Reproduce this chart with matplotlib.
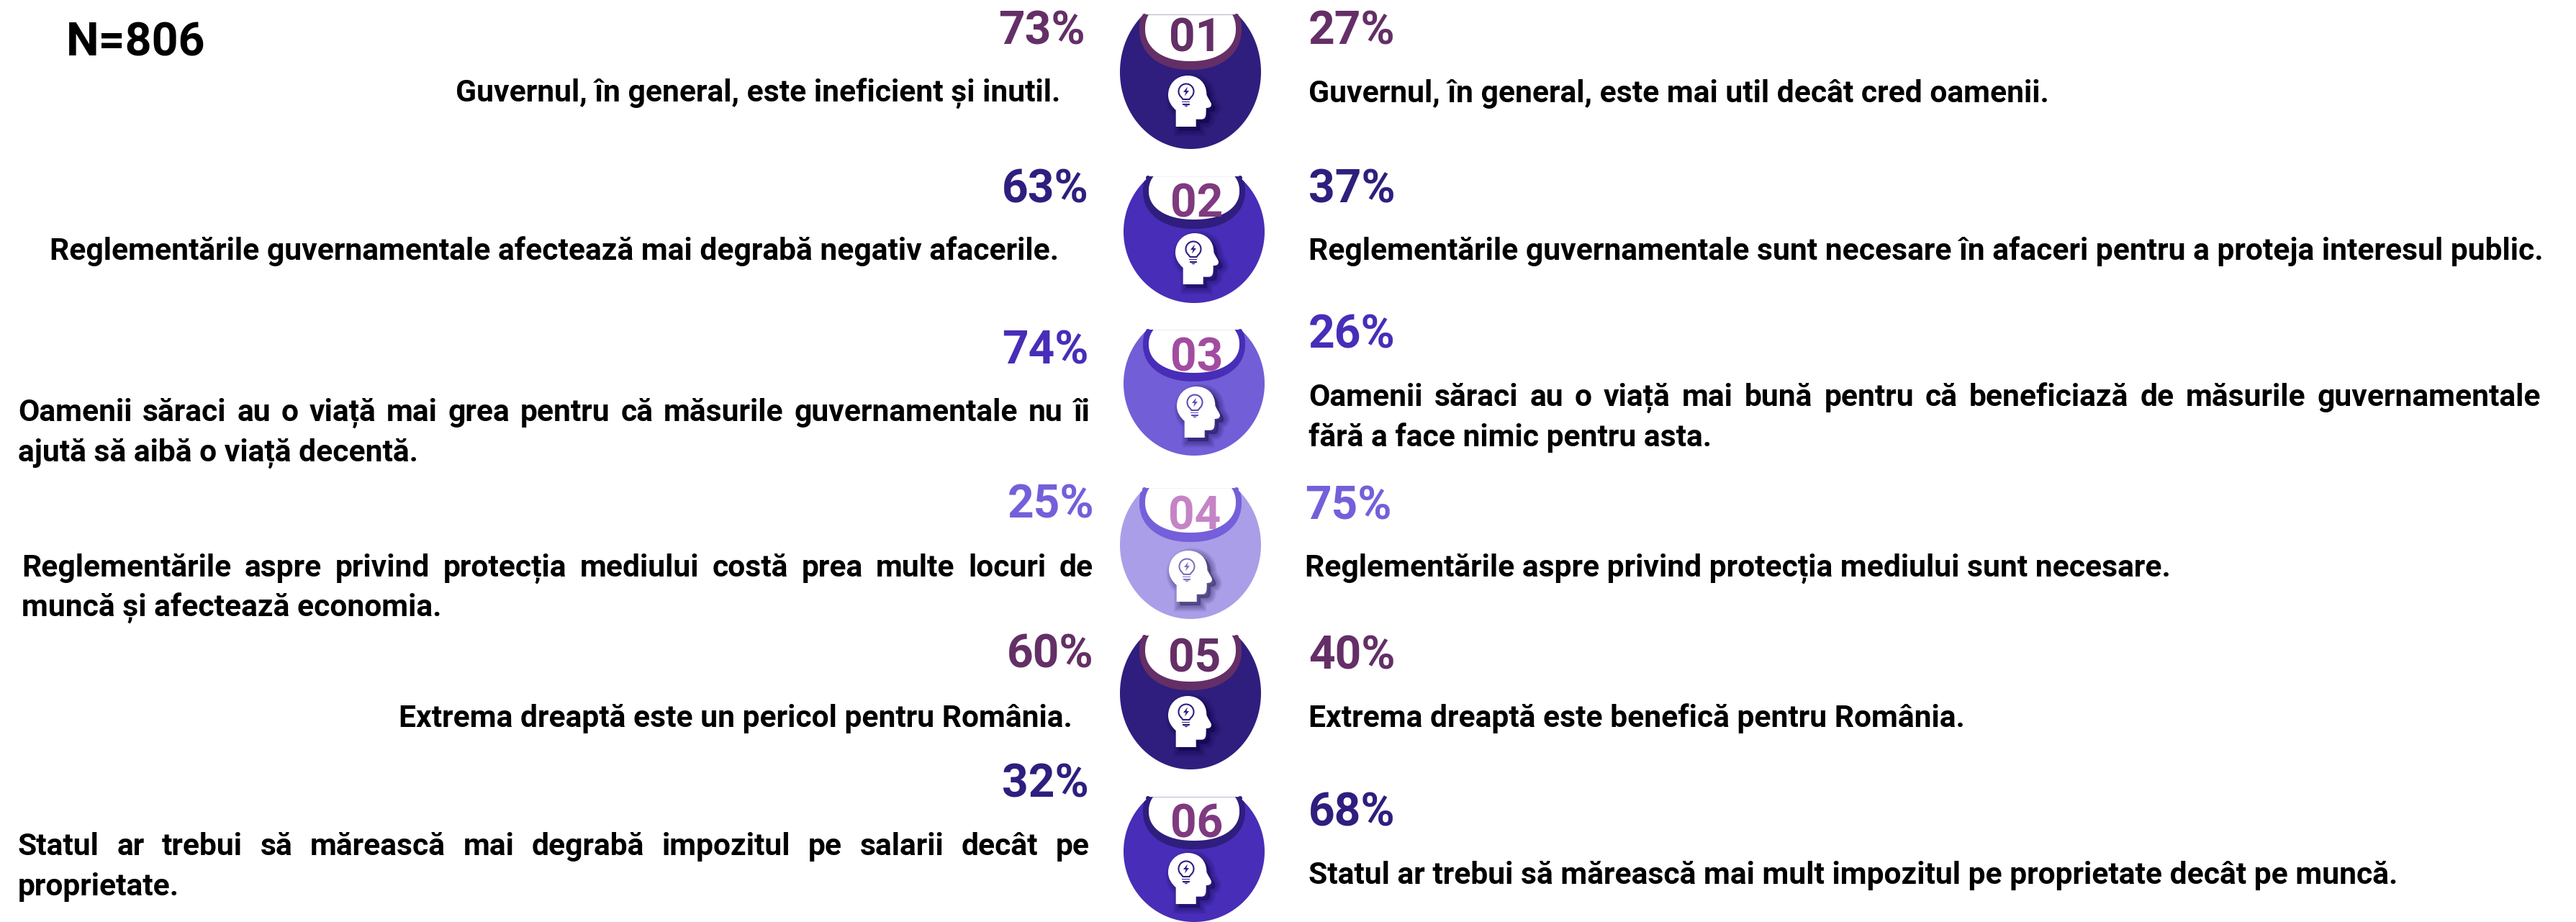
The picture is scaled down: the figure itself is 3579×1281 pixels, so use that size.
import numpy as np
import matplotlib
matplotlib.use("Agg")
import matplotlib.pyplot as plt
from matplotlib.path import Path
from matplotlib.patches import PathPatch, Circle, Polygon, Rectangle
from matplotlib.transforms import Affine2D

plt.rcParams['font.family'] = ['Roboto', 'DejaVu Sans']

# data
numbers = ["01", "02", "03", "04", "05", "06"]
left_pct = [73, 63, 74, 25, 60, 32]
right_pct = [27, 37, 26, 75, 40, 68]
left_text = [
    ["Guvernul, în general, este ineficient și inutil."],
    ["Reglementările guvernamentale afectează mai degrabă negativ afacerile."],
    ["Oamenii săraci au o viață mai grea pentru că măsurile guvernamentale nu îi",
     "ajută să aibă o viață decentă."],
    ["Reglementările aspre privind protecția mediului costă prea multe locuri de",
     "muncă și afectează economia."],
    ["Extrema dreaptă este un pericol pentru România."],
    ["Statul ar trebui să mărească mai degrabă impozitul pe salarii decât pe",
     "proprietate."],
]
right_text = [
    ["Guvernul, în general, este mai util decât cred oamenii."],
    ["Reglementările guvernamentale sunt necesare în afaceri pentru a proteja interesul public."],
    ["Oamenii săraci au o viață mai bună pentru că beneficiază de măsurile guvernamentale",
     "fără a face nimic pentru asta."],
    ["Reglementările aspre privind protecția mediului sunt necesare."],
    ["Extrema dreaptă este benefică pentru România."],
    ["Statul ar trebui să mărească mai mult impozitul pe proprietate decât pe muncă."],
]

# colours per row
body_col = ["#2f1e7e", "#482db8", "#725ed7", "#aa9ee8", "#2f1e7e", "#482db8"]
band_col = ["#642f66", "#2f1e7e", "#482db8", "#755fda", "#642f66", "#2f1e7e"]
num_col = ["#642f66", "#7f3a80", "#a24ca0", "#c584c5", "#642f66", "#7f3a80"]
left_col = ["#642f66", "#2f1e7e", "#482db8", "#755fda", "#642f66", "#2f1e7e"]
right_col = ["#642f66", "#2f1e7e", "#482db8", "#755fda", "#642f66", "#2f1e7e"]
bulb_col = ["#2f1e7e", "#2f1e7e", "#5f4eb5", "#7d72b8", "#2f1e7e", "#2f1e7e"]

# layout, in pixels of the picture
cx = [1654, 1659, 1659, 1654, 1654, 1659]
tip_y = [20, 245, 458, 678, 883, 1107]
mid_y = [100, 322, 533, 757, 963, 1183]
bot_y = [207, 421, 633, 860, 1069, 1281]
white_bot = [85, 305, 518, 740, 947, 1168]
band_bot = [97, 318, 530, 753, 959, 1180]
head_x = [1623, 1633, 1635, 1624, 1623, 1623]
head_y = [105, 324, 537, 765, 967, 1185]
num_x = [1661, 1663, 1663, 1660, 1660, 1663]
num_base = [72, 301, 515, 736, 934, 1163]

lp_right = [1508, 1513, 1513, 1520, 1520, 1513]
lp_base = [62, 281, 505, 720, 928, 1107]
rp_left = [1818, 1818, 1818, 1813, 1818, 1818]
rp_base = [62, 281, 483, 722, 929, 1148]
lt_left = [None, None, 25, 30, None, 25]
lt_right = [1473, 1471, 1514, 1519, 1490, 1514]
lt_base = [142, 361, 585, 801, 1010, 1188]
rt_left = [1818, 1818, 1818, 1813, 1818, 1818]
rt_right = [None, None, 3530, None, None, None]
rt_base = [142, 361, 564, 801, 1010, 1228]
line_gap = 56

PCT_SIZE = 64 * 0.72
NUM_SIZE = 64 * 0.72
TXT_SIZE = 42.6 * 0.72

fig = plt.figure(figsize=(35.8, 12.81), dpi=100)
ax = fig.add_axes([0, 0, 1, 1])
ax.set_xlim(0, 3580)
ax.set_ylim(1281, 0)
ax.axis("off")


def head_path():
    # drawn in pixels, left top of the head at 0,0
    v = [(10.7, 71), (38.7, 71), (38.7, 60.7), (46, 60.7),
         (53, 60.7), (52.7, 55), (52.7, 45),
         (57, 45), (60, 44), (60, 40),
         (60, 37), (54, 30), (53.3, 26),
         (53.3, 10), (42, 0), (27, 0),
         (11, 0), (0, 12), (0, 27),
         (0, 36), (5, 43), (10.7, 48),
         (10.7, 71), (10.7, 71)]
    c = [Path.MOVETO, Path.LINETO, Path.LINETO, Path.LINETO,
         Path.CURVE4, Path.CURVE4, Path.CURVE4,
         Path.CURVE4, Path.CURVE4, Path.CURVE4,
         Path.CURVE4, Path.CURVE4, Path.CURVE4,
         Path.CURVE4, Path.CURVE4, Path.CURVE4,
         Path.CURVE4, Path.CURVE4, Path.CURVE4,
         Path.CURVE4, Path.CURVE4, Path.CURVE4,
         Path.LINETO, Path.CLOSEPOLY]
    return Path(v, c)


def draw_head(x, y, clip, col):
    p = head_path()
    # soft shadow to the lower right: widening strokes fake the blur
    for lw in np.arange(1, 14):
        s = PathPatch(p, fc="#140a40", ec="#140a40", lw=lw, alpha=0.03, zorder=3,
                      transform=Affine2D().translate(x + 5, y + 5) + ax.transData)
        ax.add_patch(s)
        s.set_clip_path(clip)
    ax.add_patch(PathPatch(p, fc="white", ec="none", zorder=4,
                           transform=Affine2D().translate(x, y) + ax.transData))
    bx, by = x + 25, y + 22
    # bulb outline: round top, tapered neck
    t = np.radians(np.linspace(-50, 230, 60))
    outline = np.column_stack([bx + 10.5 * np.cos(t), by - 10.5 * np.sin(t)])
    outline = np.vstack([outline, [bx - 4.5, by + 11], [bx + 4.5, by + 11]])
    ax.add_patch(Polygon(outline, closed=True, fc="none", ec=col, lw=1.5, zorder=5))
    ax.add_patch(Rectangle((bx - 5.5, by + 13.5), 11, 1.8, fc=col, ec="none", zorder=5))
    ax.add_patch(Rectangle((bx - 5, by + 17), 10, 1.8, fc=col, ec="none", zorder=5))
    ax.add_patch(Polygon([(bx - 3.5, by + 19.5), (bx + 3.5, by + 19.5), (bx, by + 21.5)],
                         fc=col, ec="none", zorder=5))
    ax.add_patch(Polygon([(bx + 2, by - 6.5), (bx - 4, by + 1), (bx - 0.5, by + 1),
                          (bx - 2, by + 6.5), (bx + 4, by - 1), (bx + 0.5, by - 1)],
                         fc=col, ec="none", zorder=5))


def squarish(x, y, a, b, n=2.2):
    # superellipse, the scoop in the top of the icons is a bit more U than oval
    t = np.linspace(0, 2 * np.pi, 361)
    c, s = np.cos(t), np.sin(t)
    return np.column_stack([x + a * np.sign(c) * np.abs(c) ** (2 / n),
                            y + b * np.sign(s) * np.abs(s) ** (2 / n)])


def draw_icon(i):
    x, top, mid, bot = cx[i], tip_y[i], mid_y[i], bot_y[i]
    a, b = 98, bot - mid
    t = np.linspace(0, 2 * np.pi, 721)
    ex, ey = x + a * np.cos(t), mid + b * np.sin(t)
    keep = ey >= top
    pts = np.column_stack([ex[keep], ey[keep]])
    pts = pts[np.argsort(np.arctan2(pts[:, 1] - mid, pts[:, 0] - x))]
    body = Polygon(pts, closed=True, fc=body_col[i], ec="none", zorder=1)
    ax.add_patch(body)
    ec = top + 20
    band = Polygon(squarish(x, ec, 71, band_bot[i] - ec), closed=True, fc=band_col[i], ec="none", zorder=2)
    ax.add_patch(band)
    band.set_clip_path(body)
    hole = Polygon(squarish(x, ec, 63, white_bot[i] - ec), closed=True, fc="white", ec="none", zorder=2.5)
    ax.add_patch(hole)
    hole.set_clip_path(body)
    # rounded horn tips
    for sgn in (-1, 1):
        ax.add_patch(Circle((x + sgn * 64, top + 2), 3, fc=band_col[i], ec="none", zorder=2.6))
    draw_head(head_x[i], head_y[i], body, bulb_col[i])
    ax.text(num_x[i], num_base[i], numbers[i], fontsize=NUM_SIZE, fontweight="bold",
            color=num_col[i], ha="center", va="baseline", zorder=6)


def justified(line, x0, x1, base):
    # spread the words so the line fills x0..x1
    rend = fig.canvas.get_renderer()
    words = line.split(" ")
    items = [ax.text(0, base, w, fontsize=TXT_SIZE, fontweight="bold", color="black",
                     va="baseline", ha="left") for w in words]
    widths = [it.get_window_extent(rend).width for it in items]
    gap = (x1 - x0 - sum(widths)) / (len(words) - 1)
    pos = x0
    for it, w in zip(items, widths):
        it.set_x(pos)
        pos += w + gap


def draw_statement(lines, left, right, base):
    for k, line in enumerate(lines):
        y = base + k * line_gap
        if left is None:
            ax.text(right, y, line, fontsize=TXT_SIZE, fontweight="bold", ha="right", va="baseline")
        elif right is None or k == len(lines) - 1 and len(lines) > 1:
            ax.text(left, y, line, fontsize=TXT_SIZE, fontweight="bold", ha="left", va="baseline")
        else:
            justified(line, left, right, y)


for i in range(6):
    draw_icon(i)
    ax.text(lp_right[i], lp_base[i], f"{left_pct[i]}%", fontsize=PCT_SIZE, fontweight="bold",
            color=left_col[i], ha="right", va="baseline")
    ax.text(rp_left[i], rp_base[i], f"{right_pct[i]}%", fontsize=PCT_SIZE, fontweight="bold",
            color=right_col[i], ha="left", va="baseline")
    draw_statement(left_text[i], lt_left[i], lt_right[i], lt_base[i])
    draw_statement(right_text[i], rt_left[i], rt_right[i], rt_base[i])

ax.text(92, 78, "N=806", fontsize=64.5 * 0.72, fontweight="bold", color="black", ha="left", va="baseline")

fig.savefig("out.png", dpi=100)
